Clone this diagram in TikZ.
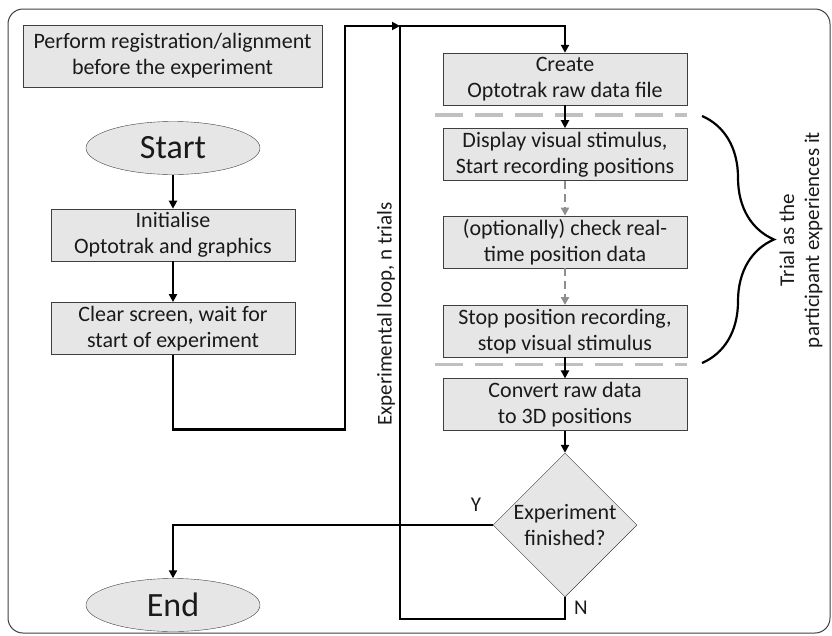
\documentclass[tikz,border=0pt]{standalone}
\usepackage{fontspec}
\setmainfont{Carlito}
\usetikzlibrary{arrows.meta,positioning,calc,shapes.geometric,decorations.pathreplacing}
\definecolor{boxgray}{HTML}{E6E6E6}
\definecolor{edgegray}{HTML}{3F3F3F}
\definecolor{cutgray}{HTML}{C0C0C0}
\definecolor{softgray}{HTML}{8E8E8E}
\definecolor{ink}{HTML}{1A1A1A}
\tikzset{box/.style={draw=edgegray,fill=boxgray,text=ink,align=center,font=\fontsize{22}{26}\selectfont,minimum width=244pt,minimum height=52pt,inner sep=1pt}, term/.style={ellipse,draw=edgegray,fill=boxgray,text=ink,minimum width=174pt,minimum height=53pt,inner sep=0pt,font=\fontsize{34}{36}\selectfont}, decide/.style={diamond,draw=edgegray,fill=boxgray,text=ink,align=center,font=\fontsize{22}{26}\selectfont,minimum width=144pt,minimum height=143pt,inner sep=0pt}, flow/.style={-{Triangle[length=8pt,width=8pt]},line width=2.4pt,draw=black}, soft/.style={-{Triangle[length=8pt,width=8pt]},line width=2.6pt,draw=softgray,dash pattern=on 8pt off 5pt}, cut/.style={draw=cutgray,line width=3.6pt,dash pattern=on 28pt off 12pt}, note/.style={text=ink,align=center,font=\fontsize{21}{25}\selectfont}}

\begin{document}
\begin{tikzpicture}[x=1pt,y=-1pt]
\useasboundingbox (0,0) rectangle (832,635);
\draw[edgegray,line width=1pt,rounded corners=15pt] (8,9) rectangle (830,633);
% left column
\node[box,minimum width=299pt,minimum height=62pt] (prep) at (172.5,56) {Perform registration/alignment\\before the experiment};
\node[term] (start) at (173,148) {Start};
\node[box,below=34pt of start] (init) {Initialise\\Optotrak and graphics};
\node[box,below=41pt of init] (clear) {Clear screen, wait for\\start of experiment};
\node[term] (end) at (173,605) {End};
% right column
\node[box] (create) at (565,79) {Create\\Optotrak raw data file};
\node[box,below=23pt of create] (show) {Display visual stimulus,\\Start recording positions};
\node[box,below=35pt of show] (check) {(optionally) check real-\\time position data};
\node[box,below=37pt of check] (stop) {Stop position recording,\\stop visual stimulus};
\node[box,below=21pt of stop] (convert) {Convert raw data\\to 3D positions};
\node[decide,below=22pt of convert] (done) {Experiment\\finished?};
\coordinate (loopT) at (400,26);
\coordinate (loopB) at (400,619);
% trial section
\draw[cut] ($(create.south west)+(-8,10)$) -- ($(create.south east)+(0,10)$);
\draw[cut] ($(stop.south west)+(-8,7)$) -- ($(stop.south east)+(0,7)$);
\draw[decorate,decoration={brace,amplitude=72pt},line width=2.2pt] (702,116) -- (702,363);
\node[note,rotate=90] (trial) at (801,240) {Trial as the\\participant experiences it};
\node[note,rotate=90] (loop) at (386,314) {Experimental loop, n trials};
% connectors
\draw[flow] (start) -- (init);
\draw[flow] (init) -- (clear);
\draw[flow] (clear.south) -- ++(0,75) -| (345,26) -- (loopT);
\draw[flow] (done.south) |- (loopB) -- (loopT) -| (create.north);
\draw[flow] (create) -- (show);
\draw[soft] (show) -- (check);
\draw[soft] (check) -- (stop);
\draw[flow] (stop) -- (convert);
\draw[flow] (convert) -- (done);
\draw[flow] (done.west) -| (end.north);
\node[note] (yes) at (476,505) {Y};
\node[note] (no) at (581,608) {N};
\end{tikzpicture}
\end{document}
